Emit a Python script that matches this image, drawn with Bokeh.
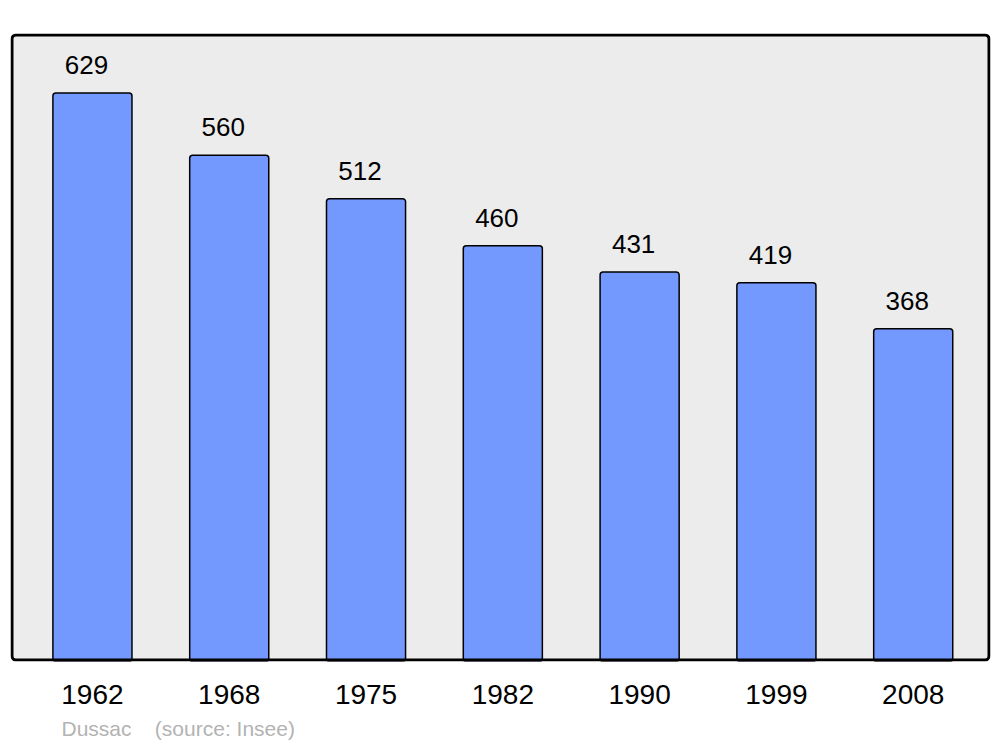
from bokeh.plotting import figure
from bokeh.models import Range1d, FixedTicker, BoxAnnotation, Title, ColumnDataSource
from bokeh.core.properties import value
from bokeh.embed import file_html
from bokeh.resources import INLINE

years = ["1962", "1968", "1975", "1982", "1990", "1999", "2008"]
population = [629, 560, 512, 460, 431, 419, 368]

idx = list(range(len(years)))
src = ColumnDataSource(dict(x=idx, top=population, lbl=[str(v) for v in population]))

FONT = "Liberation Sans"

FW, FH = 980, 628
X0, X1 = -0.599, 6.565
Y0, Y1 = 0, 694.7
sx = FW / (X1 - X0)
sy = FH / (Y1 - Y0)
inset = 1.5

p = figure(frame_width=FW, frame_height=FH, output_backend="svg", toolbar_location=None,
           x_range=Range1d(X0, X1), y_range=Range1d(Y0, Y1),
           min_border_left=10, min_border_right=2, min_border_top=33, min_border_bottom=0)
p.background_fill_color = None
p.border_fill_color = "white"
p.outline_line_color = None
p.grid.visible = False
p.yaxis.visible = False

p.add_layout(BoxAnnotation(left=X0 + inset / sx, right=X1 - inset / sx,
                           bottom=Y0 + inset / sy, top=Y1 - inset / sy,
                           fill_color="#ececec", fill_alpha=1, line_color=None,
                           level="underlay", border_radius=4))

p.vbar(x="x", width=0.578, top="top", bottom=0, source=src,
       fill_color="#7399ff", line_color="black", line_width=1.5, border_radius=3)

p.text(x="x", y="top", text="lbl", source=src, x_offset=-6, y_offset=-28,
       text_align="center", text_baseline="alphabetic",
       text_font=value(FONT), text_font_size="26px", text_color="black")

p.add_layout(BoxAnnotation(left=X0 + inset / sx, right=X1 - inset / sx,
                           bottom=Y0 + inset / sy, top=Y1 - inset / sy,
                           fill_alpha=0, line_color="black", line_alpha=1, line_width=3,
                           level="overlay", border_radius=4))

ax = p.xaxis[0]
ax.ticker = FixedTicker(ticks=idx)
ax.major_label_overrides = {i: y for i, y in zip(idx, years)}
ax.axis_line_color = None
ax.major_tick_line_color = None
ax.minor_tick_line_color = None
ax.major_tick_out = 0
ax.major_label_standoff = 23
ax.major_label_text_font = FONT
ax.major_label_text_font_size = "28px"
ax.major_label_text_color = "black"

footer = Title(text="Dussac\u00a0\u00a0\u00a0\u00a0(source: Insee)", align="left", offset=51,
               text_font=FONT, text_font_size="21px", text_font_style="normal",
               text_color="#b3b3b3", standoff=16)
p.add_layout(footer, "below")

open("out.html", "w").write(file_html(p, INLINE))
